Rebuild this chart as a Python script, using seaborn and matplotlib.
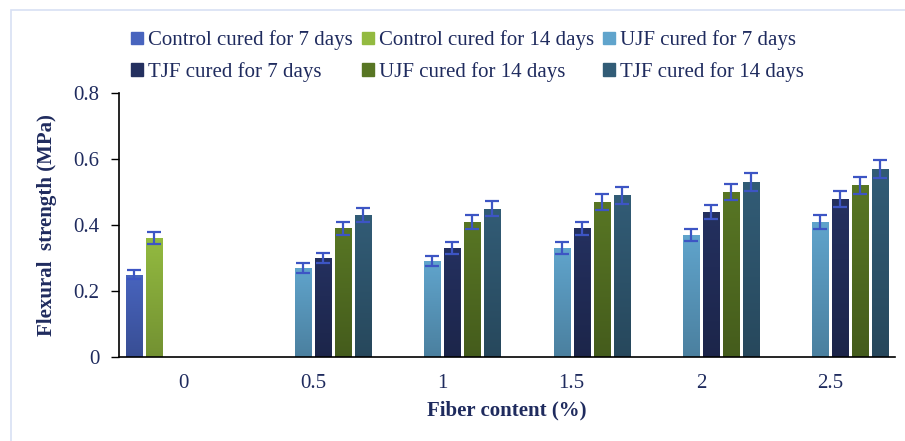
import matplotlib.pyplot as plt
import matplotlib.patches as mpatches
import matplotlib.colors as mcolors
import seaborn as sns
import numpy as np
import pandas as pd

fiber = ['0', '0.5', '1', '1.5', '2', '2.5']
series = ['Control cured for 7 days', 'Control cured for 14 days', 'UJF cured for 7 days',
          'TJF cured for 7 days', 'UJF cured for 14 days', 'TJF cured for 14 days']
colors = ['#4864BE', '#93BA40', '#60A4CC', '#24305F', '#587624', '#325C76']

control_7 = [0.25]
control_14 = [0.36]
ujf_7 = [0.27, 0.29, 0.33, 0.37, 0.41]
tjf_7 = [0.30, 0.33, 0.39, 0.44, 0.48]
ujf_14 = [0.39, 0.41, 0.47, 0.50, 0.52]
tjf_14 = [0.43, 0.45, 0.49, 0.53, 0.57]

control_7_err = [0.013]
control_14_err = [0.018]
ujf_7_err = [0.014, 0.015, 0.017, 0.019, 0.021]
tjf_7_err = [0.015, 0.017, 0.020, 0.022, 0.024]
ujf_14_err = [0.020, 0.021, 0.024, 0.025, 0.026]
tjf_14_err = [0.022, 0.023, 0.025, 0.027, 0.028]

rows = []
for name, vals, errs, cats in [
        (series[0], control_7, control_7_err, fiber[:1]),
        (series[1], control_14, control_14_err, fiber[:1]),
        (series[2], ujf_7, ujf_7_err, fiber[1:]),
        (series[3], tjf_7, tjf_7_err, fiber[1:]),
        (series[4], ujf_14, ujf_14_err, fiber[1:]),
        (series[5], tjf_14, tjf_14_err, fiber[1:])]:
    for c, v, e in zip(cats, vals, errs):
        rows.append({'fiber': c, 'series': name, 'value': v, 'err': e})
df = pd.DataFrame(rows)

sns.set_style('white')
plt.rcParams['font.family'] = ['Liberation Serif', 'DejaVu Serif']
text_col = '#1F2B5E'

fig = plt.figure(figsize=(9.05, 4.41), dpi=100)
ax = fig.add_axes([119 / 905, 1 - 357 / 441, (895 - 119) / 905, (357 - 93) / 441])

sns.barplot(data=df, x='fiber', y='value', hue='series', order=fiber, hue_order=series,
            palette=colors, saturation=1, width=0.928, gap=0.2, errorbar=None,
            legend=False, ax=ax)

# vertical gradient on every bar, a bit darker towards the base
err_map = {(r.series, r.fiber): r.err for r in df.itertuples()}
for name, col, cont in zip(series, colors, ax.containers):
    base = np.array(mcolors.to_rgb(col))
    grad = np.linspace(1.0, 0.78, 64)[:, None, None] * base[None, None, :]
    for bar in cont:
        h = bar.get_height()
        if pd.isna(h) or h == 0:
            continue
        x0, w = bar.get_x(), bar.get_width()
        bar.set_facecolor('none')
        bar.set_edgecolor((0.85, 0.88, 0.92, 0.6))
        bar.set_linewidth(0.6)
        im = ax.imshow(grad, extent=[x0, x0 + w, 0, h], aspect='auto', origin='upper',
                       zorder=2, interpolation='bilinear')
        im.set_clip_path(bar)
        xc = x0 + w / 2
        cat = fiber[int(round(xc))]
        ax.errorbar(xc, h, yerr=err_map[(name, cat)], color='#3D55C4', lw=1.6,
                    capsize=5, capthick=1.6, zorder=5)

ax.set_xlim(-0.5, 5.5)
ax.set_ylim(0, 0.8)
ax.set_yticks([0, 0.2, 0.4, 0.6, 0.8])
ax.set_yticklabels(['0', '0.2', '0.4', '0.6', '0.8'])
ax.tick_params(axis='y', which='both', left=True, length=6, width=1, direction='out',
               labelsize=15, labelcolor=text_col, pad=8, color='black')
ax.tick_params(axis='x', bottom=False, labelsize=15, labelcolor=text_col, pad=9)
for s in ['top', 'right']:
    ax.spines[s].set_visible(False)
for s in ['left', 'bottom']:
    ax.spines[s].set_color('black')
    ax.spines[s].set_linewidth(1.2)
    ax.spines[s].set_zorder(6)

ax.set_xlabel('Fiber content (%)', fontsize=15, fontweight='bold', color=text_col, labelpad=5)
ax.set_ylabel('Flexural  strength (MPa)', fontsize=15, fontweight='bold', color=text_col, labelpad=12)

handles = [mpatches.Patch(color=c, label=s) for c, s in zip(colors, series)]
order = [0, 3, 1, 4, 2, 5]
fig.legend([handles[i] for i in order], [series[i] for i in order], ncol=3,
           loc='upper left', bbox_to_anchor=(121 / 905, 1 - 20 / 441), frameon=False,
           fontsize=15, labelcolor=text_col, handlelength=0.55, handleheight=0.55,
           handletextpad=0.25, columnspacing=0.45, labelspacing=0.55, borderpad=0)

fig.patches.append(mpatches.Rectangle((11 / 905, -0.1), 1.1, 1 - 10 / 441 + 0.1,
                                      transform=fig.transFigure, fill=False,
                                      edgecolor='#D8E0F4', lw=1.2))

fig.savefig('out.png', dpi=100)
